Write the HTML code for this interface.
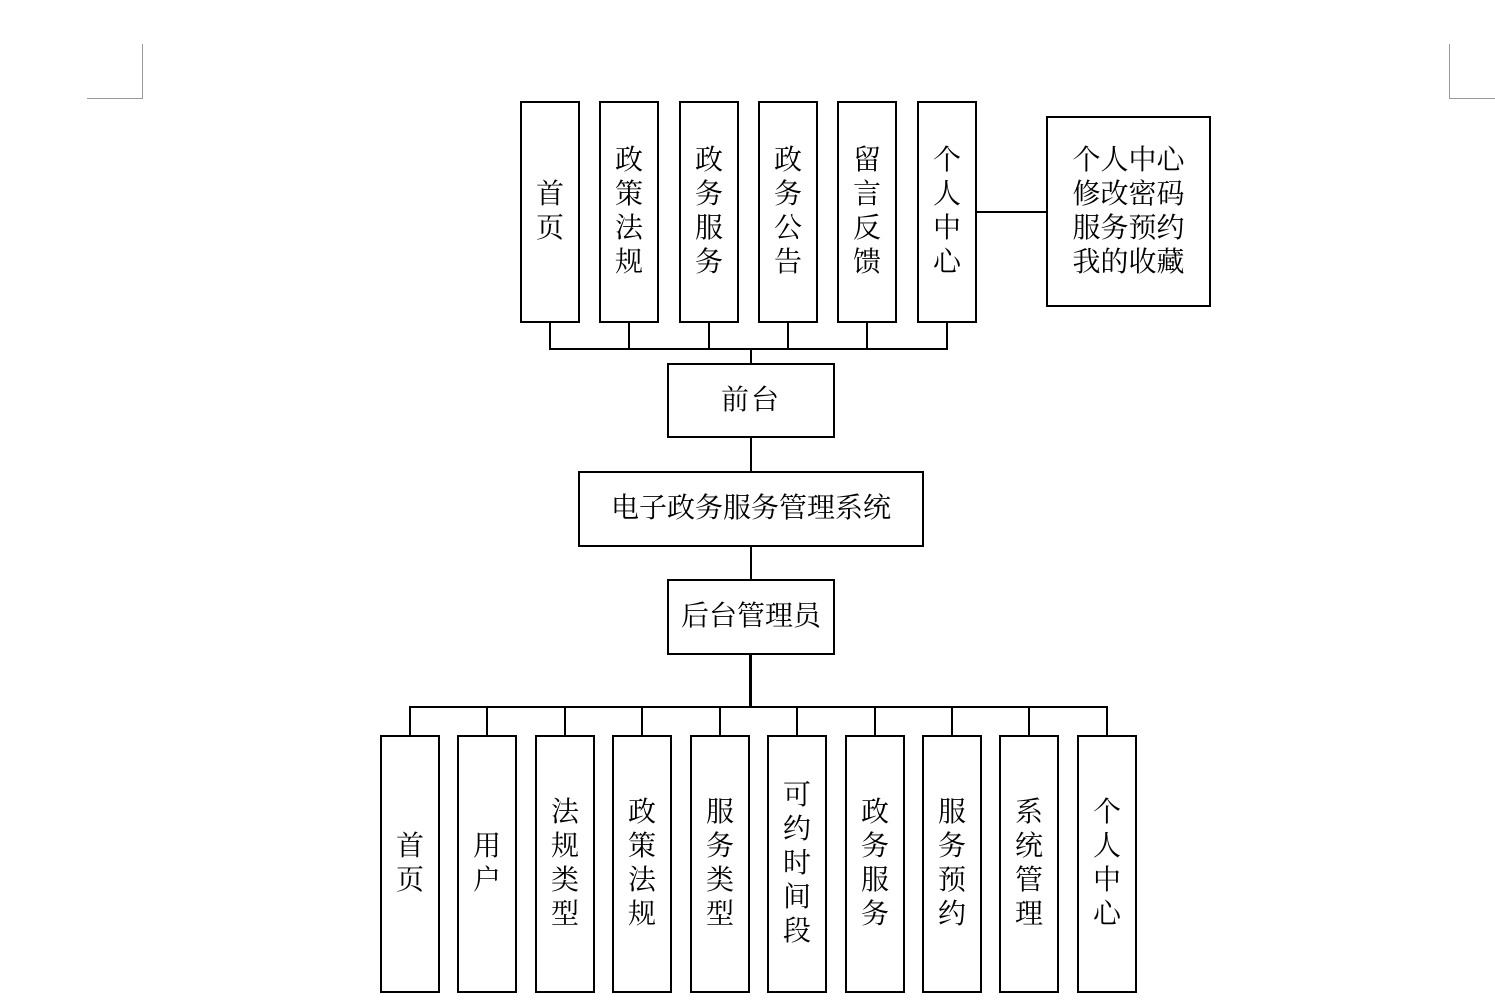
<!DOCTYPE html>
<html><head><meta charset="utf-8"><style>
body{margin:0;width:1495px;height:1003px;background:#fff;position:relative;overflow:hidden;font-family:"Liberation Serif","Noto Serif CJK SC",serif;}
.b{position:absolute;border:2px solid #000;box-sizing:border-box;display:flex;align-items:center;justify-content:center;text-align:center;font-size:28px;color:#000;line-height:34px;}
.l{position:absolute;background:#000;}
</style></head><body>
<div class="l" style="left:142px;top:44px;width:1px;height:54px;background:#999"></div>
<div class="l" style="left:87px;top:98px;width:56px;height:1px;background:#999"></div>
<div class="l" style="left:1449px;top:44px;width:1px;height:54px;background:#999"></div>
<div class="l" style="left:1449px;top:98px;width:46px;height:1px;background:#999"></div>

<div class="b" style="left:520px;top:101px;width:60px;height:222px">首<br>页</div>
<div class="b" style="left:599px;top:101px;width:60px;height:222px">政<br>策<br>法<br>规</div>
<div class="b" style="left:679px;top:101px;width:60px;height:222px">政<br>务<br>服<br>务</div>
<div class="b" style="left:758px;top:101px;width:60px;height:222px">政<br>务<br>公<br>告</div>
<div class="b" style="left:837px;top:101px;width:60px;height:222px">留<br>言<br>反<br>馈</div>
<div class="b" style="left:917px;top:101px;width:60px;height:222px">个<br>人<br>中<br>心</div>
<div class="b" style="left:1046px;top:116px;width:165px;height:191px">个人中心<br>修改密码<br>服务预约<br>我的收藏</div>
<div class="l" style="left:977px;top:211px;width:70px;height:2px"></div>

<div class="l" style="left:549px;top:322px;width:2px;height:28px"></div>
<div class="l" style="left:628px;top:322px;width:2px;height:28px"></div>
<div class="l" style="left:708px;top:322px;width:2px;height:28px"></div>
<div class="l" style="left:787px;top:322px;width:2px;height:28px"></div>
<div class="l" style="left:866px;top:322px;width:2px;height:28px"></div>
<div class="l" style="left:946px;top:322px;width:2px;height:28px"></div>
<div class="l" style="left:549px;top:348px;width:399px;height:2px"></div>
<div class="l" style="left:750px;top:348px;width:2px;height:16px"></div>

<div class="b" style="left:667px;top:363px;width:168px;height:75px;letter-spacing:2px">前台</div>
<div class="l" style="left:750px;top:437px;width:2px;height:36px"></div>
<div class="b" style="left:578px;top:471px;width:346px;height:76px">电子政务服务管理系统</div>
<div class="l" style="left:750px;top:546px;width:2px;height:35px"></div>
<div class="b" style="left:667px;top:579px;width:168px;height:76px">后台管理员</div>
<div class="l" style="left:749px;top:654px;width:3px;height:54px"></div>
<div class="l" style="left:409px;top:706px;width:699px;height:2px"></div>

<div class="l" style="left:409px;top:706px;width:2px;height:30px"></div>
<div class="l" style="left:486px;top:706px;width:2px;height:30px"></div>
<div class="l" style="left:564px;top:706px;width:2px;height:30px"></div>
<div class="l" style="left:641px;top:706px;width:2px;height:30px"></div>
<div class="l" style="left:719px;top:706px;width:2px;height:30px"></div>
<div class="l" style="left:796px;top:706px;width:2px;height:30px"></div>
<div class="l" style="left:874px;top:706px;width:2px;height:30px"></div>
<div class="l" style="left:951px;top:706px;width:2px;height:30px"></div>
<div class="l" style="left:1028px;top:706px;width:2px;height:30px"></div>
<div class="l" style="left:1106px;top:706px;width:2px;height:30px"></div>

<div class="b" style="left:380px;top:735px;width:60px;height:258px">首<br>页</div>
<div class="b" style="left:457px;top:735px;width:60px;height:258px">用<br>户</div>
<div class="b" style="left:535px;top:735px;width:60px;height:258px">法<br>规<br>类<br>型</div>
<div class="b" style="left:612px;top:735px;width:60px;height:258px">政<br>策<br>法<br>规</div>
<div class="b" style="left:690px;top:735px;width:60px;height:258px">服<br>务<br>类<br>型</div>
<div class="b" style="left:767px;top:735px;width:60px;height:258px">可<br>约<br>时<br>间<br>段</div>
<div class="b" style="left:845px;top:735px;width:60px;height:258px">政<br>务<br>服<br>务</div>
<div class="b" style="left:922px;top:735px;width:60px;height:258px">服<br>务<br>预<br>约</div>
<div class="b" style="left:999px;top:735px;width:60px;height:258px">系<br>统<br>管<br>理</div>
<div class="b" style="left:1077px;top:735px;width:60px;height:258px">个<br>人<br>中<br>心</div>
</body></html>
